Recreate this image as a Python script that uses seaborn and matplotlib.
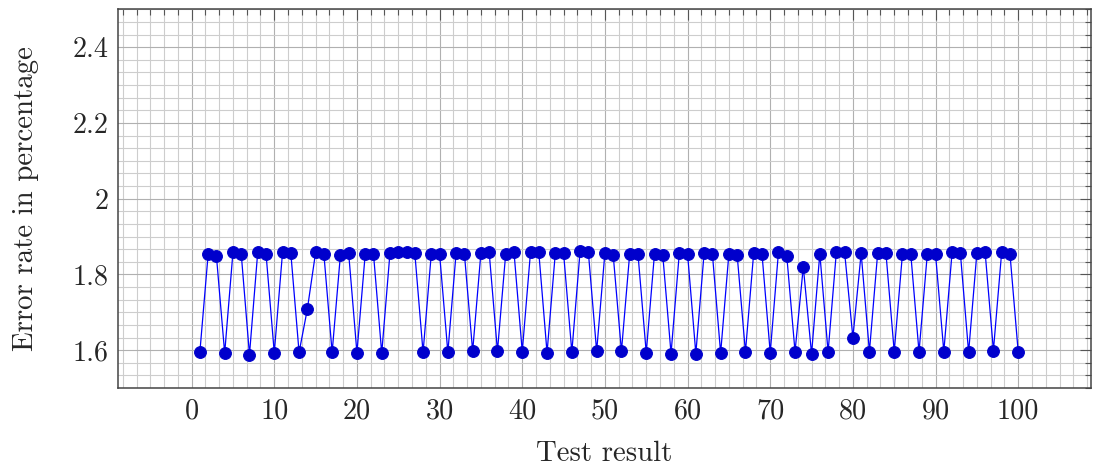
import numpy as np
import pandas as pd
import matplotlib
matplotlib.use("Agg")
import matplotlib.pyplot as plt
import seaborn as sns
from matplotlib.ticker import FixedLocator, AutoMinorLocator

test_result = list(range(1, 101))
error_rate = [
    1.595, 1.853, 1.849, 1.592, 1.858, 1.855, 1.588, 1.859, 1.855, 1.593,
    1.858, 1.857, 1.594, 1.708, 1.858, 1.854, 1.594, 1.851, 1.856, 1.593,
    1.853, 1.855, 1.592, 1.857, 1.858, 1.859, 1.857, 1.594, 1.855, 1.854,
    1.594, 1.857, 1.855, 1.597, 1.857, 1.858, 1.597, 1.855, 1.859, 1.596,
    1.859, 1.859, 1.593, 1.856, 1.856, 1.595, 1.862, 1.858, 1.597, 1.857,
    1.852, 1.597, 1.855, 1.854, 1.593, 1.855, 1.851, 1.591, 1.856, 1.854,
    1.591, 1.856, 1.855, 1.592, 1.855, 1.851, 1.595, 1.857, 1.855, 1.593,
    1.860, 1.849, 1.596, 1.820, 1.590, 1.855, 1.595, 1.859, 1.858, 1.633,
    1.856, 1.596, 1.857, 1.856, 1.596, 1.855, 1.855, 1.595, 1.853, 1.853,
    1.596, 1.858, 1.857, 1.594, 1.857, 1.858, 1.599, 1.859, 1.855, 1.595,
]
x_ticks = [0, 10, 20, 30, 40, 50, 60, 70, 80, 90, 100]
y_ticks = [1.6, 1.8, 2.0, 2.2, 2.4]
y_tick_labels = ["1.6", "1.8", "2", "2.2", "2.4"]
x_label = "Test result"
y_label = "Error rate in percentage"

sns.set_theme(style="white")
plt.rcParams["font.family"] = "serif"
plt.rcParams["font.serif"] = ["cmr10", "DejaVu Serif"]
plt.rcParams["mathtext.fontset"] = "cm"
plt.rcParams["axes.formatter.use_mathtext"] = True

fig = plt.figure(figsize=(10.95, 4.66), dpi=100)
ax = fig.add_axes([0.1078, 0.1674, 0.8885, 0.8126])

df = pd.DataFrame({"x": test_result, "y": error_rate})
sns.lineplot(data=df, x="x", y="y", ax=ax, color="#0000ff", linewidth=0.9,
             marker="o", markersize=8.5, markerfacecolor="#0000cc",
             markeredgecolor="#0000cc", zorder=5)

ax.set_xlim(-8.9, 108.8)
ax.set_ylim(1.5, 2.5)
ax.xaxis.set_major_locator(FixedLocator(x_ticks))
ax.set_xticklabels([str(v) for v in x_ticks])
ax.yaxis.set_major_locator(FixedLocator(y_ticks))
ax.set_yticklabels(y_tick_labels)
ax.xaxis.set_minor_locator(AutoMinorLocator(6))
ax.yaxis.set_minor_locator(AutoMinorLocator(6))

ax.set_axisbelow(True)
ax.grid(which="major", color="#b0b0b0", linewidth=0.8)
ax.grid(which="minor", color="#cdcdcd", linewidth=0.8)

ax.tick_params(which="both", direction="in", top=True, right=True,
               color="#555555", width=0.8, labelsize=20.3)
ax.tick_params(which="major", length=8, pad=7)
ax.tick_params(which="minor", length=4.3)

for s in ax.spines.values():
    s.set_color("#444444")
    s.set_linewidth(1.1)

ax.set_xlabel(x_label, fontsize=20.8, labelpad=12)
ax.set_ylabel(y_label, fontsize=20.8, labelpad=24)

fig.savefig("out.png", dpi=100)
